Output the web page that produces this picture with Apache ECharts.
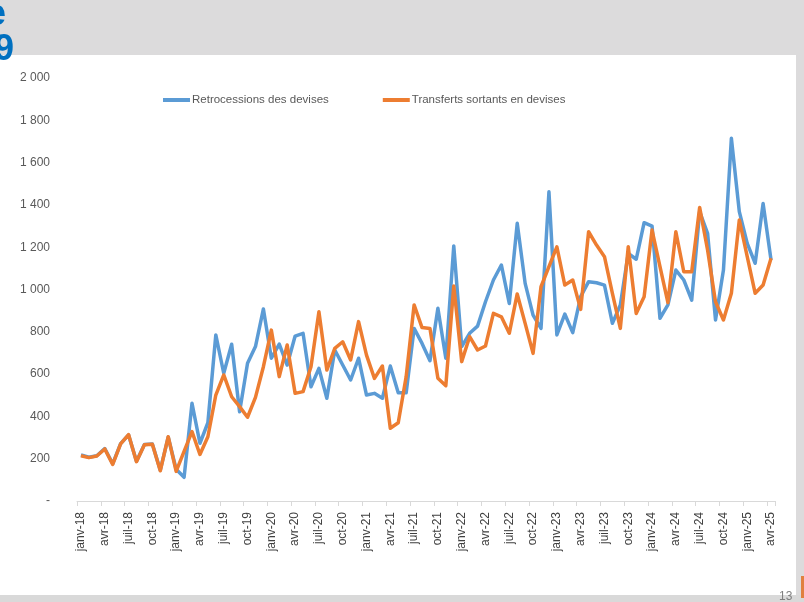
<!DOCTYPE html>
<html>
<head>
<meta charset="utf-8">
<title>Retrocessions et transferts en devises</title>
<script src="https://cdn.jsdelivr.net/npm/echarts@6/dist/echarts.min.js"></script>
<style>
    html, body { margin: 0; padding: 0; background: #ffffff; }
    #echartsbox { width: 804px; height: 602px; }
</style>
</head>
<body>
<div id="echartsbox"></div>
<script>
// mois en abrege, annees 2018 -> 2025 (janv-18 .. avr-25)
var moisList = ['janv','févr','mars','avr','mai','juin','juil','août','sept','oct','nov','déc'];
var anneeList = ['18','19','20','21','22','23','24','25'];
var categories = [];
for (var a = 0; a < anneeList.length; a++) {
    for (var m = 0; m < moisList.length; m++) {
        if (a == anneeList.length - 1 && m > 3) break;
        categories.push(moisList[m] + '-' + anneeList[a]);
    }
}

// Retrocessions des devises
var retrocessions = [
    218, 207, 214, 248, 176, 271, 312, 188, 267, 269, 146, 302,
    150, 112, 462, 273, 370, 785, 604, 741, 422, 651, 730, 908,
    675, 742, 643, 780, 793, 540, 627, 486, 714, 643, 572, 675,
    501, 509, 486, 638, 512, 512, 816, 745, 663, 911, 675, 1206,
    730, 793, 827, 942, 1045, 1116, 934, 1313, 1029, 879, 816, 1462,
    785, 884, 796, 966, 1037, 1032, 1021, 840, 927, 1171, 1143, 1316,
    1300, 864, 927, 1092, 1045, 950, 1368, 1266, 856, 1092, 1715, 1368,
    1218, 1124, 1407, 1139
];

// Transferts sortants en devises
var transferts = [
    214, 205, 213, 246, 173, 270, 314, 186, 266, 268, 143, 304,
    140, 235, 328, 220, 304, 501, 596, 493, 446, 396, 490, 635,
    808, 588, 738, 509, 517, 635, 895, 619, 722, 753, 667, 848,
    690, 580, 638, 344, 370, 588, 927, 820, 816, 580, 545, 1017,
    659, 777, 714, 733, 887, 871, 793, 979, 840, 698, 1013, 1108,
    1202, 1021, 1045, 906, 1273, 1210, 1155, 982, 816, 1202, 887, 966,
    1281, 1108, 938, 1273, 1084, 1084, 1388, 1187, 942, 856, 982, 1329,
    1155, 982, 1021, 1148
];

// graduations axe y
var yMax = 2000;
var yStep = 200;

function fmtNombre(v) {
    if (v == 0) return '-';
    return String(v).replace(/\B(?=(\d{3})+(?!\d))/g, ' ');
}

var fontSans = "'Liberation Sans', Arial, sans-serif";

var myChart = echarts.init(document.getElementById('echartsbox'));
var option = {
    backgroundColor: '#ffffff',
    animation: false,
    graphic: [
        { type: 'rect', shape: { x: 0, y: 0, width: 804, height: 55 }, style: { fill: '#dcdbdc' }, z: -10 },
        { type: 'rect', shape: { x: 796, y: 50, width: 8, height: 552 }, style: { fill: '#dcdbdc' }, z: -10 },
        { type: 'rect', shape: { x: 0, y: 595, width: 804, height: 7 }, style: { fill: '#d9d9d9' }, z: -10 },
        { type: 'rect', shape: { x: 801, y: 576, width: 3, height: 22 }, style: { fill: '#e0803f' }, z: -9 },
        { type: 'text', left: -14, top: -3, style: { text: 'e', fill: '#0070c0', font: 'bold 36px "Liberation Sans", Arial, sans-serif' } },
        { type: 'text', left: -6, top: 32, style: { text: '9', fill: '#0070c0', font: 'bold 36px "Liberation Sans", Arial, sans-serif' } },
        { type: 'text', left: 779, top: 591, style: { text: '13', fill: '#7f7f7f', font: '12px "Liberation Sans", Arial, sans-serif' } }
    ],
    legend: {
        left: 163,
        top: 94,
        padding: 0,
        icon: 'rect',
        itemWidth: 27,
        itemHeight: 4,
        itemGap: 54,
        textStyle: {
            color: '#595959',
            fontFamily: fontSans,
            fontSize: 11.5,
            padding: [0, 0, 0, -3]
        },
        data: ['Retrocessions des devises', 'Transferts sortants en devises']
    },
    grid: {
        left: 77,
        right: 29,
        top: 78,
        bottom: 101,
        containLabel: false
    },
    xAxis: {
        type: 'category',
        data: categories,
        boundaryGap: true,
        axisLine: { lineStyle: { color: '#d9d9d9', width: 1 } },
        axisTick: { show: true, interval: 2, length: 5, lineStyle: { color: '#d9d9d9' } },
        axisLabel: {
            interval: 2,
            rotate: 90,
            margin: 11,
            color: '#404040',
            fontFamily: fontSans,
            fontSize: 12
        },
        splitLine: { show: false }
    },
    yAxis: {
        type: 'value',
        min: 0,
        max: yMax,
        interval: yStep,
        axisLine: { show: false },
        axisTick: { show: false },
        splitLine: { show: false },
        axisLabel: {
            margin: 27,
            color: '#595959',
            fontFamily: fontSans,
            fontSize: 12,
            formatter: fmtNombre
        }
    },
    series: [
        {
            name: 'Retrocessions des devises',
            type: 'line',
            data: retrocessions,
            symbol: 'none',
            lineStyle: { color: '#5b9bd5', width: 3.5, join: 'round' },
            itemStyle: { color: '#5b9bd5' }
        },
        {
            name: 'Transferts sortants en devises',
            type: 'line',
            data: transferts,
            symbol: 'none',
            lineStyle: { color: '#ed7d31', width: 3.5, join: 'round' },
            itemStyle: { color: '#ed7d31' }
        }
    ]
};
myChart.setOption(option);
window.onresize = myChart.resize;
</script>
</body>
</html>
